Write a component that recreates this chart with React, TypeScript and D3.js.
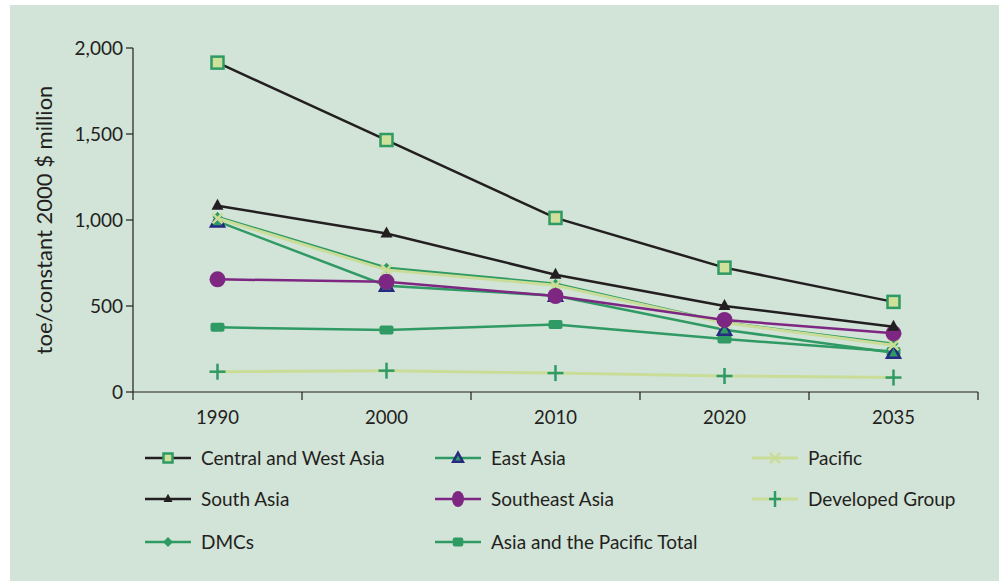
import React from "react";
import * as d3 from "d3";

const years = ["1990", "2000", "2010", "2020", "2035"];
const centralWestAsia = [1915, 1465, 1012, 723, 524];
const southAsia = [1083, 922, 682, 500, 380];
const eastAsia = [992, 618, 560, 362, 228];
const southeastAsia = [655, 641, 558, 419, 341];
const pacific = [1010, 710, 620, 402, 272];
const dmcs = [1018, 722, 630, 404, 280];
const developedGroup = [118, 124, 110, 93, 84];
const asiaPacificTotal = [376, 360, 392, 308, 236];
const yTicks = [0, 500, 1000, 1500, 2000];

const BLACK = "#231f20";
const GREEN = "#2f9a64";
const PALE = "#c9dd98";
const NAVY = "#262a80";
const PURPLE = "#7d2783";

type Series = {
  name: string;
  values: number[];
  line: string;
  width: number;
  marker: string;
};

const series: Series[] = [
  { name: "Central and West Asia", values: centralWestAsia, line: BLACK, width: 2.5, marker: "square" },
  { name: "East Asia", values: eastAsia, line: GREEN, width: 2.5, marker: "triOpen" },
  { name: "Pacific", values: pacific, line: PALE, width: 3, marker: "x" },
  { name: "South Asia", values: southAsia, line: BLACK, width: 2.5, marker: "tri" },
  { name: "Southeast Asia", values: southeastAsia, line: PURPLE, width: 2.5, marker: "circle" },
  { name: "Developed Group", values: developedGroup, line: PALE, width: 3, marker: "plus" },
  { name: "DMCs", values: dmcs, line: GREEN, width: 2.5, marker: "diamond" },
  { name: "Asia and the Pacific Total", values: asiaPacificTotal, line: GREEN, width: 2.5, marker: "rect" },
];

const drawOrder = [
  "Developed Group",
  "Asia and the Pacific Total",
  "East Asia",
  "DMCs",
  "Pacific",
  "Southeast Asia",
  "South Asia",
  "Central and West Asia",
];

function Marker({ type, x, y, s = 1 }: { type: string; x: number; y: number; s?: number }) {
  switch (type) {
    case "square":
      return <rect x={x - 6 * s} y={y - 6 * s} width={12 * s} height={12 * s} fill="#cfe09b" stroke={GREEN} strokeWidth={2.5} />;
    case "tri":
      return <path d={`M${x},${y - 7 * s}L${x + 6 * s},${y + 4 * s}L${x - 6 * s},${y + 4 * s}Z`} fill={BLACK} />;
    case "triOpen":
      return <path d={`M${x},${y - 7 * s}L${x + 6.5 * s},${y + 5 * s}L${x - 6.5 * s},${y + 5 * s}Z`} fill={GREEN} stroke={NAVY} strokeWidth={2.5} />;
    case "circle":
      return <ellipse cx={x} cy={y} rx={8 * s} ry={8} fill={PURPLE} />;
    case "x":
      return (
        <g stroke={PALE} strokeWidth={2.5}>
          <line x1={x - 5} y1={y - 5} x2={x + 5} y2={y + 5} />
          <line x1={x - 5} y1={y + 5} x2={x + 5} y2={y - 5} />
        </g>
      );
    case "plus":
      return (
        <g stroke={GREEN} strokeWidth={2.5}>
          <line x1={x - 8 * s} y1={y} x2={x + 8 * s} y2={y} />
          <line x1={x} y1={y - 8} x2={x} y2={y + 8} />
        </g>
      );
    case "diamond":
      return <path d={`M${x},${y - 5}L${x + 5},${y}L${x},${y + 5}L${x - 5},${y}Z`} fill={GREEN} />;
    case "rect":
      return <rect x={x - 7 * s} y={y - 4.5} width={14 * s} height={9} rx={2} fill={GREEN} />;
    default:
      return null;
  }
}

export default function App() {
  const W = 999;
  const H = 582;
  const left = 133;
  const right = 978;
  const top = 48;
  const bottom = 392;

  const x = d3.scaleBand<string>().domain(years).range([left, right]);
  const y = d3.scaleLinear().domain([0, 2000]).range([bottom, top]);
  const cx = (yr: string) => (x(yr) as number) + x.bandwidth() / 2;

  const line = d3
    .line<number>()
    .x((_, i) => cx(years[i]))
    .y((v) => y(v));

  const fmt = d3.format(",");
  const font = "Lato, 'Open Sans', sans-serif";

  const legendCols = [145, 435, 752];
  const legendRows = [458, 499, 542];

  return (
    <svg width={W} height={H} style={{ position: "absolute", left: 0, top: 0 }} fontFamily={font}>
      <rect x={10} y={5} width={989} height={576} fill="#d2e3d7" />

      {/* y axis */}
      <line x1={left} y1={top} x2={left} y2={bottom} stroke={BLACK} strokeWidth={1.2} />
      {yTicks.map((t) => (
        <g key={t}>
          <line x1={left - 7} x2={left} y1={y(t)} y2={y(t)} stroke={BLACK} strokeWidth={1.2} />
          <text x={left - 10} y={y(t)} dy="0.35em" textAnchor="end" fontSize={19} fill={BLACK}>
            {fmt(t)}
          </text>
        </g>
      ))}
      <text
        transform={`translate(44,${(top + bottom) / 2}) rotate(-90)`}
        textAnchor="middle"
        dy="0.35em"
        fontSize={22}
        fill={BLACK}
      >
        toe/constant 2000 $ million
      </text>

      {/* x axis */}
      <line x1={left} y1={bottom} x2={right} y2={bottom} stroke={BLACK} strokeWidth={1.2} />
      {[...years.map((yr) => x(yr) as number), right].map((p, i) => (
        <line key={i} x1={p} x2={p} y1={bottom} y2={bottom + 8} stroke={BLACK} strokeWidth={1.2} />
      ))}
      {years.map((yr) => (
        <text key={yr} x={cx(yr)} y={424} textAnchor="middle" fontSize={18.5} fill={BLACK}>
          {yr}
        </text>
      ))}

      {/* series */}
      {drawOrder.map((name) => {
        const s = series.find((d) => d.name === name)!;
        return (
          <g key={name}>
            <path d={line(s.values) || ""} fill="none" stroke={s.line} strokeWidth={s.width} />
            {s.values.map((v, i) => (
              <Marker key={i} type={s.marker} x={cx(years[i])} y={y(v)} />
            ))}
          </g>
        );
      })}

      {/* legend */}
      {series.map((s, i) => {
        const col = i % 3;
        const row = Math.floor(i / 3);
        const lx = legendCols[col];
        const ly = legendRows[row];
        return (
          <g key={s.name}>
            <line x1={lx} x2={lx + 46} y1={ly} y2={ly} stroke={s.line} strokeWidth={s.width} />
            <Marker type={s.marker} x={lx + 23} y={ly} s={0.75} />
            <text x={lx + 56} y={ly} dy="0.35em" fontSize={19} fill={BLACK}>
              {s.name}
            </text>
          </g>
        );
      })}
    </svg>
  );
}
